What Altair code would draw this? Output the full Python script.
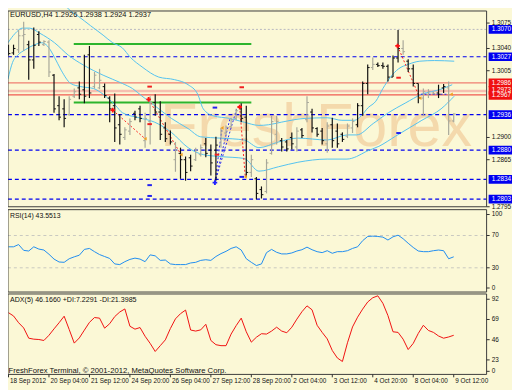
import altair as alt
import pandas as pd

# ---------------- price bars (EURUSD H4) ----------------
opens = [1.3044, 1.3033, 1.3038, 1.3060, 1.3046, 1.3022, 1.3062, 1.3046, 1.3050, 1.2998,
         1.2950, 1.2945, 1.2936, 1.2965, 1.2978, 1.2975, 1.3030, 1.2980, 1.2978, 1.2980,
         1.2962, 1.2950, 1.2920, 1.2900, 1.2910, 1.2938, 1.2945, 1.2895, 1.2925, 1.2955,
         1.2940, 1.2915, 1.2905, 1.2865, 1.2875, 1.2865, 1.2868, 1.2865, 1.2873, 1.2890,
         1.2880, 1.2880, 1.2888, 1.2907, 1.2917, 1.2930, 1.2945, 1.2932, 1.2845, 1.2835,
         1.2818, 1.2815, 1.2875, 1.2905, 1.2895, 1.2893, 1.2900, 1.2885, 1.2912, 1.2928,
         1.2940, 1.2914, 1.2910, 1.2890, 1.2920, 1.2910, 1.2905, 1.2902, 1.2915, 1.2920,
         1.2950, 1.2985, 1.3010, 1.3015, 1.3013, 1.3012, 1.2995, 1.3025, 1.3040, 1.3020,
         1.3008, 1.2985, 1.2962, 1.2968, 1.2970, 1.2970, 1.2978, 1.2978, 1.2926]
highs = [1.3046, 1.3046, 1.3069, 1.3082, 1.3052, 1.3073, 1.3067, 1.3053, 1.3053, 1.3000,
         1.2965, 1.2960, 1.2965, 1.2977, 1.2988, 1.3030, 1.3044, 1.3003, 1.3008, 1.2985,
         1.2965, 1.2969, 1.2937, 1.2916, 1.2930, 1.2942, 1.2950, 1.2939, 1.2965, 1.2968,
         1.2957, 1.2924, 1.2911, 1.2893, 1.2884, 1.2870, 1.2873, 1.2884, 1.2889, 1.2899,
         1.2889, 1.2901, 1.2915, 1.2919, 1.2931, 1.2945, 1.2954, 1.2950, 1.2873, 1.2838,
         1.2823, 1.2866, 1.2934, 1.2934, 1.2899, 1.2896, 1.2908, 1.2916, 1.2915, 1.2965,
         1.2945, 1.2916, 1.2915, 1.2924, 1.2931, 1.2922, 1.2908, 1.2922, 1.2930, 1.2954,
         1.2988, 1.3015, 1.3026, 1.3018, 1.3018, 1.3015, 1.3029, 1.3069, 1.3053, 1.3023,
         1.3015, 1.2985, 1.2977, 1.2976, 1.2972, 1.2983, 1.2984, 1.2988, 1.2938]
lows = [1.3029, 1.3030, 1.3033, 1.3036, 1.2991, 1.3008, 1.3044, 1.3044, 1.2995, 1.2939,
        1.2927, 1.2916, 1.2934, 1.2962, 1.2960, 1.2954, 1.2962, 1.2977, 1.2976, 1.2962,
        1.2924, 1.2893, 1.2889, 1.2896, 1.2904, 1.2927, 1.2924, 1.2884, 1.2889, 1.2934,
        1.2896, 1.2893, 1.2889, 1.2846, 1.2835, 1.2832, 1.2847, 1.2863, 1.2870, 1.2869,
        1.2840, 1.2832, 1.2884, 1.2904, 1.2915, 1.2927, 1.2924, 1.2838, 1.2838, 1.2803,
        1.2804, 1.2812, 1.2873, 1.2889, 1.2878, 1.2878, 1.2881, 1.2878, 1.2899, 1.2924,
        1.2908, 1.2901, 1.2889, 1.2876, 1.2884, 1.2884, 1.2893, 1.2899, 1.2907, 1.2916,
        1.2934, 1.2968, 1.3006, 1.3011, 1.3008, 1.2988, 1.2995, 1.3018, 1.3030, 1.3003,
        1.2980, 1.2954, 1.2934, 1.2962, 1.2968, 1.2962, 1.2970, 1.2904, 1.2924]
closes = [1.3032, 1.3040, 1.3060, 1.3062, 1.3022, 1.3045, 1.3050, 1.3051, 1.3003, 1.2945,
          1.2932, 1.2930, 1.2960, 1.2972, 1.2968, 1.2965, 1.2970, 1.2998, 1.2990, 1.2966,
          1.2945, 1.2915, 1.2905, 1.2912, 1.2925, 1.2932, 1.2930, 1.2930, 1.2955, 1.2940,
          1.2905, 1.2898, 1.2893, 1.2880, 1.2865, 1.2845, 1.2855, 1.2880, 1.2884, 1.2875,
          1.2860, 1.2888, 1.2910, 1.2916, 1.2928, 1.2942, 1.2930, 1.2845, 1.2865, 1.2812,
          1.2810, 1.2860, 1.2925, 1.2925, 1.2885, 1.2882, 1.2890, 1.2910, 1.2903, 1.2955,
          1.2915, 1.2905, 1.2895, 1.2918, 1.2895, 1.2890, 1.2897, 1.2918, 1.2925, 1.2950,
          1.2985, 1.3010, 1.3015, 1.3013, 1.3012, 1.2995, 1.3025, 1.3040, 1.3035, 1.3008,
          1.2985, 1.2962, 1.2972, 1.2972, 1.2969, 1.2968, 1.2980, 1.2926, 1.2937]
tones = ["k", "k", "g", "g", "k", "k", "k", "g", "g", "k",
         "k", "k", "g", "g", "k", "k", "k", "g", "g", "k",
         "k", "k", "k", "g", "g", "k", "k", "g", "g", "k",
         "k", "k", "k", "g", "k", "k", "k", "g", "g", "k",
         "k", "k", "g", "g", "g", "g", "k", "k", "g", "k",
         "k", "g", "g", "g", "k", "k", "k", "g", "k", "g",
         "k", "k", "k", "g", "k", "k", "k", "g", "g", "k",
         "k", "k", "g", "k", "k", "k", "k", "k", "g", "k",
         "k", "k", "g", "g", "g", "k", "k", "g", "g"]

# ---------------- indicators ----------------
rsi = [56, 56, 58.8, 51.6, 50.8, 56, 53.2, 52, 46.8, 40.8,
       37.2, 36.8, 41.2, 43.6, 45.6, 52.8, 54, 50, 46.4, 44,
       41.6, 34.8, 34, 37.6, 40.4, 42, 40.8, 37.6, 46, 44.8,
       39.2, 39.6, 34.8, 34, 34, 34, 36, 36.8, 39.2, 40,
       39.2, 44, 47.6, 50.4, 54, 56, 52, 41.2, 36.8, 32.8,
       34.8, 48.8, 52.8, 49.2, 47.2, 47.2, 48.4, 50.8, 52.4, 55.6,
       52.4, 50, 48.8, 51.2, 48, 50, 50, 51.2, 54, 56,
       63.6, 68.8, 69.2, 68.8, 68, 64.4, 68.4, 70.4, 66, 60.4,
       55.2, 50.8, 50, 50, 51.2, 52, 51.2, 41.2, 43.6]
adx = [76.7, 73, 65.3, 59.4, 47.7, 46.6, 46.2, 45.1, 51, 58.3,
       65.3, 72.7, 57.6, 42.1, 48, 56.9, 65.7, 71.2, 70.5, 59.1,
       64.2, 72.3, 77.5, 81, 61.3, 58, 59.8, 49.9, 41.8, 32.6,
       39.2, 45.8, 58.7, 69.7, 75.6, 79.7, 57, 55.8, 57.2, 63.5,
       45.1, 40.3, 39.2, 39.2, 52.4, 62, 70.5, 55, 43.2, 48.8,
       52.8, 52.4, 55.8, 60.2, 55.8, 53.9, 60.2, 69.4, 77.8, 84.5,
       80, 62.4, 54.3, 46.9, 33.7, 25.2, 21.2, 42.5, 60.5, 71.6,
       80.8, 88.9, 93.7, 95.9, 87.4, 73.4, 55, 54.3, 46.6, 34.8,
       41.8, 53.2, 62.4, 56.5, 54.3, 50.2, 47.7, 49.1, 51]

# bands (bar index, price)
bb_up_i = [10.4, 12.3, 13.9, 16.2, 18.7, 20.6, 22.5, 24.1, 26.4, 29.7, 32.8, 35.5, 37.4, 38.5, 40.5,
           43.7, 46.6, 49.5, 51.4, 53.9, 58.6, 63.0, 65.9, 68.4, 69.7, 71.1, 72.6, 74.0, 75.5, 77.1,
           79.0, 81.3, 84.2, 88.1]
bb_up_p = [1.3114, 1.3099, 1.3090, 1.3076, 1.3061, 1.3049, 1.3041, 1.3026, 1.3011, 1.2995, 1.2991,
           1.2983, 1.2968, 1.2945, 1.2934, 1.2930, 1.2924, 1.2919, 1.2920, 1.2924, 1.2930, 1.2931,
           1.2927, 1.2927, 1.2934, 1.2947, 1.2957, 1.2977, 1.2995, 1.3008, 1.3015, 1.3020, 1.3021,
           1.3020]
bb_mid_i = [-0.1, 1.35, 2.7, 4.2, 6.2, 9.1, 11.9, 14.8, 18.7, 22.5, 24.5, 26.4, 28.9, 32.2, 35.5,
            38.0, 41.8, 46.6, 49.5, 53.4, 57.2, 63.0, 66.9, 68.8, 72.1, 75.1, 78.4, 81.7, 85.5, 87.7]
bb_mid_p = [1.3049, 1.3064, 1.3072, 1.3072, 1.3064, 1.3049, 1.3029, 1.3014, 1.2998, 1.2985, 1.2977,
            1.2965, 1.2950, 1.2930, 1.2914, 1.2901, 1.2899, 1.2896, 1.2884, 1.2893, 1.2899, 1.2896,
            1.2904, 1.2904, 1.2922, 1.2939, 1.2954, 1.2968, 1.2976, 1.2983]
bb_low_i = [-0.1, 0.8, 1.9, 3.3, 5.2, 6.6, 7.7, 9.1, 10.4, 12.3, 14.3, 16.8, 18.7, 21.2, 22.5, 25.8,
            28.9, 32.2, 35.5, 38.5, 41.8, 46.6, 49.5, 53.4, 57.2, 63.0, 66.9, 68.8, 70.7, 73.2, 76.5,
            81.7, 85.5, 88.1]
bb_low_p = [1.2992, 1.3018, 1.3030, 1.3038, 1.3046, 1.3049, 1.3044, 1.3026, 1.3006, 1.2985, 1.2980,
            1.2977, 1.2968, 1.2950, 1.2939, 1.2931, 1.2924, 1.2908, 1.2884, 1.2873, 1.2870, 1.2867,
            1.2847, 1.2854, 1.2861, 1.2866, 1.2866, 1.2870, 1.2878, 1.2886, 1.2902, 1.2927, 1.2945,
            1.2965]

# horizontal levels
blue_levels = [1.3027, 1.2936, 1.2880, 1.2834, 1.2803]
gray_levels = [1.3070]
red_levels = [1.2986, 1.2973, 1.2967]
red_colors = ["#F07E70", "#F6BFB0", "#F05A50"]
red_widths = [1.2, 2.5, 1.2]
green_levels = [1.3047, 1.2955]
green_start, green_end = 12.9, 48.0

# markers
red_star_i = [20.6, 27.7, 45.7, 76.9]
red_star_p = [1.2943, 1.2960, 1.2948, 1.3044]
blue_star_i = [40.8]
blue_star_p = [1.2829]
red_dash_i = [27.9, 46.1, 27.9, 41.2, 77.1]
red_dash_p = [1.2980, 1.2979, 1.2921, 1.2873, 1.2994]
blue_dash_i = [40.8, 27.9, 27.9, 46.1, 77.1]
blue_dash_p = [1.2947, 1.2825, 1.2808, 1.2838, 1.2907]
arrow_i = [27.0, 34.1, 46.8, 42.2, 81.3, 87.5]
arrow_p = [1.2898, 1.2873, 1.2838, 1.2915, 1.2962, 1.2968]
red_zig = [(20.6, 1.2943, 27.0, 1.2898), (27.7, 1.2960, 34.1, 1.2873),
           (45.7, 1.2948, 46.8, 1.2838), (76.9, 1.3044, 81.3, 1.2962)]
blue_zig = [(40.8, 1.2829, 42.2, 1.2915), (40.8, 1.2829, 43.8, 1.2931),
            (40.8, 1.2829, 45.1, 1.2945), (81.5, 1.2968, 87.0, 1.2968)]

# axis texts (scale labels hidden behind the coloured tags are not drawn)
price_ticks = [1.3075, 1.3040, 1.3005, 1.2900, 1.2865, 1.2795]
price_tick_pos = [1.3080, 1.3040, 1.3005, 1.2900, 1.2865, 1.2791]
blue_tags = [1.3070, 1.3027, 1.2936, 1.2880, 1.2834, 1.2803]
red_tags = [1.2986, 1.2973, 1.2967]
red_tag_pos = [1.2986, 1.2974, 1.2966]
rsi_tick_text = ["100", "70", "30", "0"]
rsi_tick_pos = [96, 70, 30, 5]
adx_tick_text = ["92", "69", "46", "23", "0"]
adx_tick_pos = [92, 69, 46, 23, 10]
time_idx = [0, 8, 16, 24, 32, 40, 48, 56, 64, 72, 80, 88]
time_text = ["18 Sep 2012", "20 Sep 04:00", "21 Sep 12:00", "24 Sep 20:00", "26 Sep 04:00",
             "27 Sep 12:00", "28 Sep 20:00", "2 Oct 04:00", "3 Oct 12:00", "4 Oct 20:00",
             "8 Oct 04:00", "9 Oct 12:00"]
title_text = "EURUSD,H4  1.2926 1.2938 1.2924 1.2937"
rsi_text = "RSI(14) 43.5513"
adx_text = "ADX(5) 46.1660 +DI:7.2291 -DI:21.3985"
footer_text = "FreshForex Terminal, \u00a9 2001-2012, MetaQuotes Software Corp."

# ---------------- layout (reference pixels -> chart pixels) ----------------
W, H = 512, 382
SX, SY = W / 518, H / 388
def cx(r): return (r - 2) * SX
def cy(r): return (r - 2) * SY

XS = alt.Scale(domain=[0, 88], range=[cx(2.5), cx(2.5 + 5.2 * 88)], nice=False, zero=False)
PS = alt.Scale(domain=[1.2791, 1.3099], range=[cy(204), cy(2)], nice=False, zero=False)
RS = alt.Scale(domain=[0, 102], range=[cy(292), cy(207)], nice=False, zero=False)
AS = alt.Scale(domain=[6.5, 98], range=[cy(377), cy(294)], nice=False, zero=False)
LEFT, RIGHT = -0.1, 94.5
TAG0, TAG1, TXT = 94.9, 99.6, 95.5
FONT = "Liberation Sans"
BG = "#FBF8D6"

def X(f): return alt.X(f, type="quantitative", scale=XS, axis=None)
def Y(f, s): return alt.Y(f, type="quantitative", scale=s, axis=None)

layers = []

# watermark
wm = pd.DataFrame({"i": [60.8], "p": [1.2916], "t": ["FreshForex"]})
layers.append(alt.Chart(wm).mark_text(font=FONT, fontSize=62, color="#F0C08A", opacity=0.55,
                                      baseline="middle", align="center")
              .encode(x=X("i"), y=Y("p", PS), text="t:N"))

def hlines(levels, x1, x2, **kw):
    df = pd.DataFrame({"p": levels, "a": [x1] * len(levels), "b": [x2] * len(levels)})
    return alt.Chart(df).mark_rule(**kw).encode(x=X("a"), x2="b", y=Y("p", PS))

layers.append(hlines(gray_levels, LEFT, RIGHT, color="#B8B8C0", strokeDash=[2, 2], strokeWidth=1))
for lv, c, w in zip(red_levels, red_colors, red_widths):
    layers.append(hlines([lv], LEFT, RIGHT, color=c, strokeWidth=w))
layers.append(hlines(green_levels, green_start, green_end, color="#2DB52D", strokeWidth=2))
layers.append(hlines(blue_levels, LEFT, RIGHT, color="#0000F0", strokeDash=[4, 3], strokeWidth=1.2))

# bands
bands = pd.concat([
    pd.DataFrame({"i": bb_up_i, "p": bb_up_p, "b": "up", "o": range(len(bb_up_i))}),
    pd.DataFrame({"i": bb_mid_i, "p": bb_mid_p, "b": "mid", "o": range(len(bb_mid_i))}),
    pd.DataFrame({"i": bb_low_i, "p": bb_low_p, "b": "low", "o": range(len(bb_low_i))}),
])
layers.append(alt.Chart(bands).mark_line(color="#52C2F0", strokeWidth=1, interpolate="monotone")
              .encode(x=X("i"), y=Y("p", PS), detail="b:N", order="o:Q"))

# zigzags
def segs(lst, color):
    df = pd.DataFrame(lst, columns=["a", "pa", "b", "pb"])
    return alt.Chart(df).mark_rule(color=color, strokeDash=[2, 2], strokeWidth=1).encode(
        x=X("a"), x2="b", y=Y("pa", PS), y2="pb")
layers.append(segs(red_zig, "#FF2020"))
layers.append(segs(blue_zig, "#2828F0"))

# OHLC bars
bars = pd.DataFrame({"i": range(len(opens)), "o": opens, "h": highs, "l": lows, "c": closes, "t": tones})
bars["il"] = bars["i"] - 0.38
bars["ir"] = bars["i"] + 0.38
tone_color = alt.Color("t:N", scale=alt.Scale(domain=["k", "g"], range=["#101010", "#A8A89A"]), legend=None)
layers.append(alt.Chart(bars).mark_rule(strokeWidth=1.2).encode(
    x=X("i"), y=Y("l", PS), y2="h", color=tone_color))
layers.append(alt.Chart(bars).mark_rule(strokeWidth=1).encode(
    x=X("il"), x2="i", y=Y("o", PS), color=tone_color))
layers.append(alt.Chart(bars).mark_rule(strokeWidth=1).encode(
    x=X("i"), x2="ir", y=Y("c", PS), color=tone_color))

# markers
def dashes(li, lp, color):
    df = pd.DataFrame({"i": li, "p": lp})
    df["a"] = df["i"] - 0.45
    df["b"] = df["i"] + 0.45
    return alt.Chart(df).mark_rule(color=color, strokeWidth=2).encode(x=X("a"), x2="b", y=Y("p", PS))
layers.append(dashes(red_dash_i, red_dash_p, "#F02020"))
layers.append(dashes(blue_dash_i, blue_dash_p, "#2020F0"))
layers.append(alt.Chart(pd.DataFrame({"i": arrow_i, "p": arrow_p})).mark_point(
    shape="triangle-left", filled=True, color="#F0A020", size=14, opacity=1).encode(x=X("i"), y=Y("p", PS)))
layers.append(alt.Chart(pd.DataFrame({"i": red_star_i, "p": red_star_p})).mark_point(
    shape="cross", filled=True, color="#FF1010", size=22, opacity=1).encode(x=X("i"), y=Y("p", PS)))
layers.append(alt.Chart(pd.DataFrame({"i": blue_star_i, "p": blue_star_p})).mark_point(
    shape="cross", filled=True, color="#2020FF", size=22, opacity=1).encode(x=X("i"), y=Y("p", PS)))

# RSI panel
layers.append(alt.Chart(pd.DataFrame({"v": [70, 30], "a": [LEFT] * 2, "b": [RIGHT] * 2})).mark_rule(
    color="#C8C8C0", strokeDash=[3, 3], strokeWidth=1).encode(x=X("a"), x2="b", y=Y("v", RS)))
layers.append(alt.Chart(pd.DataFrame({"i": range(len(rsi)), "v": rsi})).mark_line(
    color="#1E8CF0", strokeWidth=1).encode(x=X("i"), y=Y("v", RS)))

# ADX panel
layers.append(alt.Chart(pd.DataFrame({"i": range(len(adx)), "v": adx})).mark_line(
    color="#F01010", strokeWidth=1).encode(x=X("i"), y=Y("v", AS)))

# frames
def frame(y0, y1, s):
    df = pd.DataFrame({"a": [LEFT], "b": [RIGHT], "y0": [y0], "y1": [y1]})
    return alt.Chart(df).mark_rect(fillOpacity=0, stroke="#3C3C3C", strokeWidth=1).encode(
        x=X("a"), x2="b", y=Y("y0", s), y2="y1")
layers.append(frame(1.2791, 1.3099, PS))
layers.append(frame(0, 102, RS))
layers.append(frame(6.5, 98, AS))

# right-hand price scale
pt = pd.DataFrame({"p": price_tick_pos, "t": [f"{v:.4f}" for v in price_ticks]})
pt["a"], pt["b"], pt["x"] = RIGHT, RIGHT + 0.6, TXT
layers.append(alt.Chart(pt).mark_rule(color="#303030").encode(x=X("a"), x2="b", y=Y("p", PS)))
layers.append(alt.Chart(pt).mark_text(font=FONT, fontSize=6.5, align="left", baseline="middle",
                                      color="#101010").encode(x=X("x"), y=Y("p", PS), text="t:N"))

def tags(vals, pos, color):
    df = pd.DataFrame({"p": pos, "t": [f"{v:.4f}" for v in vals]})
    df["p0"], df["p1"] = df["p"] - 0.00068, df["p"] + 0.00068
    df["a"], df["b"], df["x"] = TAG0, TAG1, TXT
    box = alt.Chart(df).mark_rect(color=color).encode(x=X("a"), x2="b", y=Y("p0", PS), y2="p1")
    txt = alt.Chart(df).mark_text(font=FONT, fontSize=6.5, align="left", baseline="middle",
                                  color="white").encode(x=X("x"), y=Y("p", PS), text="t:N")
    return [box, txt]
layers += tags(blue_tags, blue_tags, "#0000F0")
layers += tags(red_tags, red_tag_pos, "#F01010")

def side_labels(pos, texts, s):
    df = pd.DataFrame({"v": pos, "t": texts})
    df["a"], df["b"], df["x"] = RIGHT, RIGHT + 0.6, TXT
    return [alt.Chart(df).mark_rule(color="#303030").encode(x=X("a"), x2="b", y=Y("v", s)),
            alt.Chart(df).mark_text(font=FONT, fontSize=6.5, align="left", baseline="middle",
                                    color="#101010").encode(x=X("x"), y=Y("v", s), text="t:N")]
layers += side_labels(rsi_tick_pos, rsi_tick_text, RS)
layers += side_labels(adx_tick_pos, adx_tick_text, AS)

# time axis
tx = pd.DataFrame({"i": time_idx, "t": time_text})
tx["v0"], tx["v1"], tx["vt"], tx["xt"] = 6.5, 3.2, -1.2, tx["i"] + 0.3
layers.append(alt.Chart(tx).mark_rule(color="#303030").encode(x=X("i"), y=Y("v0", AS), y2="v1"))
layers.append(alt.Chart(tx).mark_text(font=FONT, fontSize=6.5, align="left", baseline="middle",
                                      color="#101010").encode(x=X("xt"), y=Y("vt", AS), text="t:N"))

# panel captions
cap = [(0.3, 1.3093, title_text, PS, 7.5), (0.3, 93.6, rsi_text, RS, 7),
       (0.3, 91.4, adx_text, AS, 7.2), (0.0, 10.9, footer_text, AS, 7.8)]
for ci, cv, ct, cs, fs in cap:
    layers.append(alt.Chart(pd.DataFrame({"i": [ci], "v": [cv], "t": [ct]})).mark_text(
        font=FONT, fontSize=fs, align="left", baseline="middle", color="#101010").encode(
        x=X("i"), y=Y("v", cs), text="t:N"))

chart = alt.layer(*layers).resolve_scale(y="independent", color="independent").properties(
    width=W, height=H, autosize=alt.AutoSizeParams(type="none"), padding=0, background=BG
).configure_view(stroke=None)

chart.save("out.html", embed_options={"renderer": "svg", "actions": False})
